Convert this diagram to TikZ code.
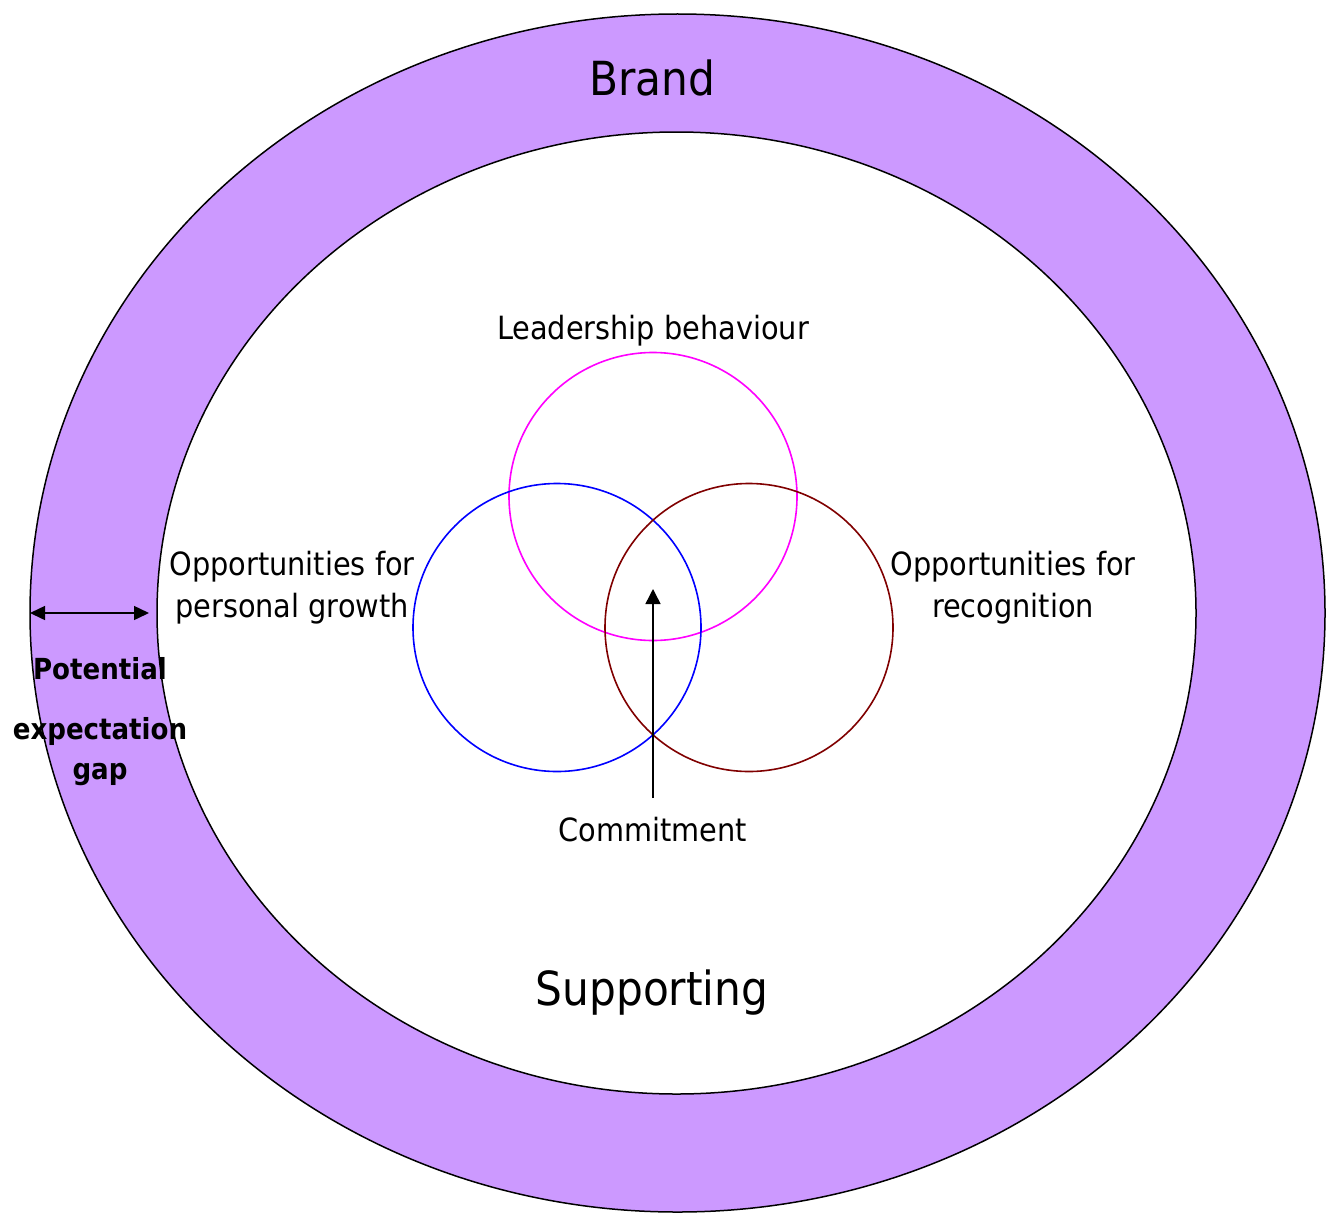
\documentclass[tikz,border=0pt]{standalone}
\usepackage{fontspec}
\setmainfont{DejaVu Sans Condensed}
\usepackage{xcolor}
\usepackage{tikz}
\usetikzlibrary{shapes.geometric, arrows.meta, positioning}
\definecolor{ring}{HTML}{CC99FF}
\definecolor{lead}{HTML}{FF00FF}
\definecolor{growth}{HTML}{0000FF}
\definecolor{recog}{HTML}{800000}

\begin{document}
\begin{tikzpicture}[x=1pt, y=-1pt,
  band/.style={ellipse, draw=black, line width=1.5pt, inner sep=0pt, outer sep=0pt},
  venn/.style={circle, draw, line width=1.6pt, minimum size=288pt, inner sep=0pt, outer sep=0pt},
  lbl/.style={font=\fontsize{32}{42}\selectfont, align=center, inner sep=0pt},
  big/.style={font=\fontsize{47}{54}\selectfont, inner sep=0pt},
  arr/.style={-{Triangle[length=15pt, width=15pt]}, line width=1.5pt}]
\useasboundingbox (0,0) rectangle (1329,1212);
% brand ring and supporting area
\node[band, fill=ring, minimum width=1295pt, minimum height=1198pt] (outer) at (677.5,613) {};
\node[band, fill=white, minimum width=1039pt, minimum height=962pt] (inner) at (676.5,613) {};
\node[big] (brand) at (652,78) {Brand};
\node[big] (supp) at (652,993) {Supporting};
% the three circles
\node[venn, draw=lead] (leadc) at (653,496.5) {};
\node[venn, draw=growth] (growc) at (557,627.5) {};
\node[venn, draw=recog] (recogc) at (749,627.5) {};
\node[lbl] (leadl) at (653,331) {Leadership behaviour};
\node[lbl] (growl) at (292,588) {Opportunities for\\personal growth};
\node[lbl] (recogl) at (1013,588) {Opportunities for\\recognition};
% commitment arrow
\node[lbl, anchor=north] (commit) at (653,817) {Commitment};
\coordinate (tip) at (653,589);
\draw[arr] ([yshift=19pt]commit.north) -- (tip);
% expectation gap
\draw[arr, {Triangle[length=15pt, width=14pt]}-{Triangle[length=15pt, width=14pt]}, shorten >=8pt] (outer.west) -- (inner.west);
\node[font=\fontsize{29}{40}\selectfont\bfseries, align=center, inner sep=0pt] (gapl) at (100,722) {Potential\\[20pt]expectation\\gap};
\end{tikzpicture}
\end{document}
